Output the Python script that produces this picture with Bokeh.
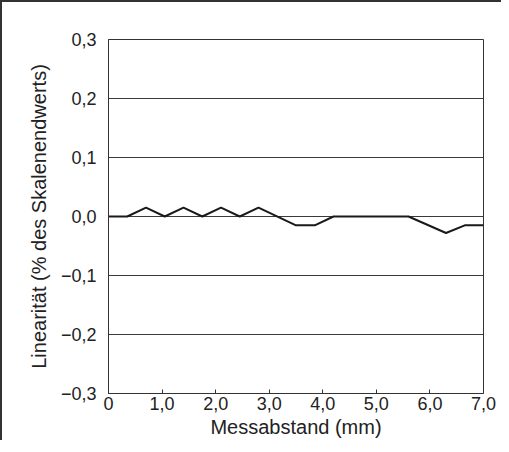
from bokeh.plotting import figure
from bokeh.models import FixedTicker, Range1d
from bokeh.embed import file_html
from bokeh.resources import INLINE

# Data
distance_mm = [0, 0.35, 0.7, 1.05, 1.4, 1.75, 2.1, 2.45, 2.8, 3.5, 3.85, 4.2, 5.6, 6.3, 6.65, 7.0]
linearity = [0, 0, 0.015, 0, 0.015, 0, 0.015, 0, 0.015, -0.015, -0.015, 0, 0, -0.028, -0.015, -0.015]
x_ticks = [0, 1, 2, 3, 4, 5, 6, 7]
x_labels = ["0", "1,0", "2,0", "3,0", "4,0", "5,0", "6,0", "7,0"]
y_ticks = [-0.3, -0.2, -0.1, 0.0, 0.1, 0.2, 0.3]
y_labels = ["\u22120,3", "\u22120,2", "\u22120,1", "0,0", "0,1", "0,2", "0,3"]

FONT = "Liberation Sans"
TXT = "#222222"

p = figure(width=501, height=440, output_backend="svg", toolbar_location=None,
           x_range=Range1d(0, 7), y_range=Range1d(-0.3, 0.3),
           min_border_left=106, min_border_right=20, min_border_top=37, min_border_bottom=49)

p.line(distance_mm, linearity, line_color="#1a1a1a", line_width=2)

p.xaxis.ticker = FixedTicker(ticks=x_ticks)
p.xaxis.major_label_overrides = {t: l for t, l in zip(x_ticks, x_labels)}
p.yaxis.ticker = FixedTicker(ticks=y_ticks)
p.yaxis.major_label_overrides = {t: l for t, l in zip(y_ticks, y_labels)}

p.xaxis.axis_label = "Messabstand (mm)"
p.yaxis.axis_label = "Linearität (% des Skalenendwerts)"

for ax in (p.xaxis, p.yaxis):
    ax.axis_line_color = "#333333"
    ax.major_label_text_font = FONT
    ax.major_label_text_font_size = "18px"
    ax.major_label_text_color = TXT
    ax.axis_label_text_font = FONT
    ax.axis_label_text_font_size = "20px"
    ax.axis_label_text_font_style = "normal"
    ax.axis_label_text_color = TXT
    ax.minor_tick_line_color = None

p.xaxis.major_tick_in = 4
p.xaxis.major_tick_out = 0
p.xaxis.major_tick_line_color = "#333333"
p.xaxis.major_label_standoff = 3
p.xaxis.axis_label_standoff = 3
p.yaxis.major_tick_line_color = None
p.yaxis.major_label_standoff = 6
p.yaxis.axis_label_standoff = 8

p.xgrid.grid_line_color = None
p.ygrid.grid_line_color = "#3a3a3a"
p.ygrid.grid_line_width = 1
p.outline_line_color = "#333333"
p.outline_line_width = 1
p.background_fill_color = "white"
p.border_fill_color = "white"
p.styles = {"border-top": "2px solid #333333", "border-left": "2px solid #333333"}

open("out.html", "w").write(file_html(p, INLINE))
